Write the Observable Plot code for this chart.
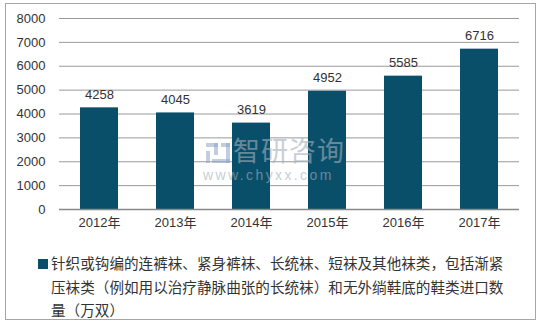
<!DOCTYPE html>
<html><head><meta charset="utf-8">
<script src="https://cdn.jsdelivr.net/npm/d3@7"></script>
<script src="https://cdn.jsdelivr.net/npm/@observablehq/plot@0.6"></script>
<style>
body{margin:0;background:#fff;font-family:"Liberation Sans","Noto Sans CJK SC",sans-serif;}
#wrap{position:relative;width:545px;height:325px;overflow:hidden;}
#frame{position:absolute;left:5px;top:3px;width:529px;height:315px;border:1px solid #a6a6a6;pointer-events:none;}
#chart{position:absolute;left:0;top:0;}
#legend{position:absolute;left:38px;top:251px;width:480px;font-size:14.6px;line-height:23.5px;color:#333;font-family:"Noto Sans CJK SC","Liberation Sans",sans-serif;}
#legend .sw{display:inline-block;width:10px;height:10px;background:#0a4f6a;margin-right:3px;vertical-align:0px;}
#legend .ind{padding-left:13px;}
.wm{position:absolute;color:#a3afbb;opacity:0.6;pointer-events:none;white-space:nowrap;}
.ic{position:absolute;background:#8fa6c4;opacity:0.55;}
</style></head>
<body>
<div id="wrap">
  <div id="chart"></div>
  <div class="ic" style="left:206px;top:143px;width:12px;height:4px"></div>
  <div class="ic" style="left:214px;top:143px;width:4px;height:12px"></div>
  <div class="ic" style="left:206px;top:151px;width:4px;height:12px"></div>
  <div class="ic" style="left:221px;top:143px;width:9px;height:4px"></div>
  <div class="ic" style="left:226px;top:143px;width:4px;height:20px"></div>
  <div class="ic" style="left:212px;top:159px;width:18px;height:4px"></div>
  <div class="wm" style="left:233px;top:134px;font-size:27px;line-height:32px;font-family:'Noto Sans CJK SC',sans-serif;letter-spacing:1px">智研咨询</div>
  <div class="wm" style="left:203px;top:168px;font-size:14px;line-height:15px;font-family:'Liberation Sans',sans-serif;letter-spacing:2.4px">www.chyxx.com</div>
  <div id="legend"></div>
  <div id="frame"></div>
</div>
<script>
const years = ["2012年","2013年","2014年","2015年","2016年","2017年"];
const values = [4258, 4045, 3619, 4952, 5585, 6716];
const yTicks = [0,1000,2000,3000,4000,5000,6000,7000,8000];
const legendLines = [
  "针织或钩编的连裤袜、紧身裤袜、长统袜、短袜及其他袜类，包括渐紧",
  "压袜类（例如用以治疗静脉曲张的长统袜）和无外绱鞋底的鞋类进口数",
  "量（万双）"
];
const barColor = "#0a4f6a";

const data = years.map((y,i)=>({year:y, value:values[i]}));

const chart = Plot.plot({
  width: 545,
  height: 236,
  marginLeft: 59,
  marginRight: 26,
  marginTop: 18,
  marginBottom: 27,
  style: {fontFamily:'"Liberation Sans","Noto Sans CJK SC",sans-serif', fontSize:"12px", color:"#333", background:"transparent"},
  x: {domain: years, paddingInner: 0.5, paddingOuter: 0.25, label: null},
  y: {domain: [0, 8000], label: null},
  marks: [
    Plot.gridY(yTicks.filter(d=>d>0), {stroke:"#9a9a9a", strokeOpacity:1, strokeWidth:1}),
    Plot.barY(data, {x:"year", y:"value", fill: barColor}),
    Plot.ruleY([0], {stroke:"#888", strokeWidth:1.5}),
    Plot.text(data, {x:"year", y:"value", text:d=>String(d.value), dy:-13, fill:"#333", fontSize:13}),
    Plot.axisY({ticks: yTicks, tickFormat: d=>String(d), tickSize:0, tickPadding:14, label:null, fontSize:13, fill:"#333"}),
    Plot.axisX({tickSize:0, tickPadding:8, label:null, fontSize:13, fill:"#333"})
  ]
});
document.getElementById("chart").appendChild(chart);

const lg = document.getElementById("legend");
legendLines.forEach((t,i)=>{
  const d = document.createElement("div");
  if(i===0){ d.innerHTML = '<span class="sw"></span>' + t; }
  else { d.className = "ind"; d.textContent = t; }
  lg.appendChild(d);
});
</script>
</body></html>
